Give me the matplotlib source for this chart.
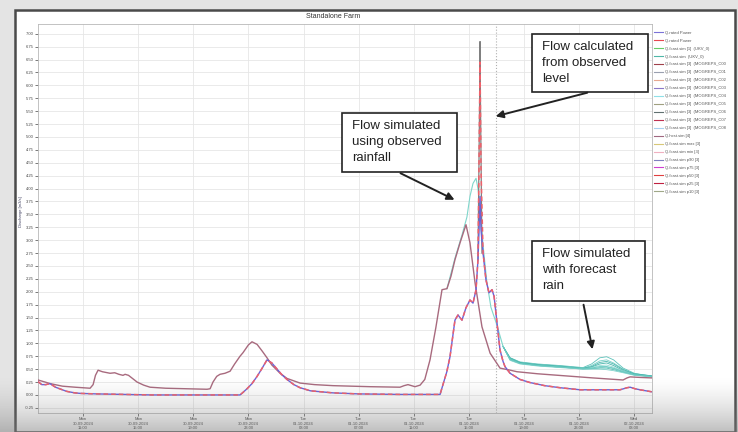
import matplotlib
matplotlib.use("Agg")
import matplotlib.pyplot as plt
import matplotlib.dates as mdates
import numpy as np
import pandas as pd
from matplotlib.lines import Line2D
from matplotlib.patches import Rectangle, FancyArrowPatch

# hours counted from 30-09-2024 00:00
start = pd.Timestamp("2024-09-30 00:00")

obs_hours = [7.73, 8.0, 8.3, 8.6, 9.0, 9.8, 10.4, 10.8, 12.0, 14.0, 16.0, 18.0, 20.0,
             22.39, 22.61, 22.90, 23.26, 23.63, 24.0, 24.35, 24.7, 25.08, 25.4, 25.8,
             26.3, 26.75, 27.5, 29.14, 31.0, 34.0, 36.0, 36.91, 37.12, 37.4, 37.63,
             37.99, 38.21, 38.50, 38.79, 39.08, 39.30, 39.52, 39.66, 39.74, 39.81,
             39.88, 40.03, 40.24, 40.46, 40.68, 40.83, 41.04, 41.26, 41.48, 41.62,
             41.99, 42.71, 43.44, 44.5, 45.62, 47.07, 48.5, 49.97, 50.48, 50.70,
             51.06, 51.42, 52.29]
obs_rated = [0.26, 0.20, 0.20, 0.22, 0.15, 0.07, 0.04, 0.03, 0.02, 0.01, 0.00, 0.00, 0.00,
             0.00, 0.05, 0.12, 0.22, 0.36, 0.52, 0.68, 0.62, 0.50, 0.40, 0.30,
             0.20, 0.14, 0.08, 0.04, 0.02, 0.01, 0.01, 0.01, 0.20, 0.45, 0.74,
             1.45, 1.55, 1.45, 1.69, 1.84, 1.78, 2.04, 2.62, 3.20, 3.85,
             3.20, 2.75, 2.23, 1.98, 2.04, 1.91, 1.40, 0.87, 0.65, 0.55,
             0.42, 0.30, 0.24, 0.18, 0.14, 0.10, 0.10, 0.10, 0.14, 0.15,
             0.12, 0.10, 0.06]
obs_level = [0.26, 0.20, 0.20, 0.22, 0.15, 0.07, 0.04, 0.03, 0.02, 0.01, 0.00, 0.00, 0.00,
             0.00, 0.05, 0.12, 0.22, 0.36, 0.52, 0.68, 0.62, 0.50, 0.40, 0.30,
             0.20, 0.14, 0.08, 0.04, 0.02, 0.01, 0.01, 0.01, 0.20, 0.45, 0.74,
             1.45, 1.55, 1.45, 1.69, 1.84, 1.78, 2.04, 2.62, 4.60, 6.45,
             4.40, 2.75, 2.23, 1.98, 2.04, 1.91, 1.40, 0.87, 0.65, 0.55,
             0.42, 0.30, 0.24, 0.18, 0.14, 0.10, 0.10, 0.10, 0.14, 0.15,
             0.12, 0.10, 0.06]

spike_hours = [39.66, 39.79, 39.81, 39.83, 39.95]
spike_vals = [2.62, 6.0, 6.85, 6.0, 2.75]

sim_hours = [7.73, 8.24, 8.61, 9.5, 10.42, 11.51, 11.73, 11.9, 12.09, 12.4, 12.96, 13.3,
             13.6, 13.9, 14.05, 14.3, 14.92, 15.4, 15.86, 17.0, 18.5, 20.0, 20.22, 20.43,
             20.7, 20.94, 21.3, 21.67, 22.0, 22.39, 22.61, 23.0, 23.26, 23.63, 24.0,
             24.35, 24.7, 25.30, 25.8, 26.75, 27.8, 29.14, 31.83, 34.0, 34.3, 34.58,
             35.09, 35.46, 35.8, 36.18, 36.6, 37.05, 37.41, 37.7, 37.99, 38.36, 38.79,
             39.08, 39.45, 39.95, 40.54, 41.26, 42.0, 42.49, 44.0, 46.0, 48.0, 50.19,
             50.48, 50.7, 51.4, 52.29]
sim_obs_rain = [0.29, 0.25, 0.22, 0.17, 0.15, 0.13, 0.20, 0.38, 0.48, 0.45, 0.42, 0.43,
                0.40, 0.38, 0.40, 0.38, 0.25, 0.19, 0.15, 0.13, 0.12, 0.11, 0.12, 0.25,
                0.36, 0.40, 0.42, 0.46, 0.60, 0.75, 0.82, 0.97, 1.03, 0.98, 0.85,
                0.72, 0.58, 0.42, 0.32, 0.23, 0.20, 0.18, 0.16, 0.15, 0.18, 0.20,
                0.16, 0.19, 0.30, 0.68, 1.30, 2.04, 2.06, 2.30, 2.62, 2.95, 3.30,
                2.95, 2.17, 1.32, 0.81, 0.52, 0.48, 0.45, 0.41, 0.37, 0.33, 0.29,
                0.33, 0.35, 0.34, 0.33]

ukv_hours = [37.41, 37.99, 38.5, 38.86, 39.08, 39.3, 39.52, 39.66, 39.81, 40.03, 40.3,
             40.6, 41.04, 41.48]
ukv_vals = [2.06, 2.65, 3.10, 3.45, 3.85, 4.10, 4.20, 4.00, 3.60, 2.90, 2.20,
            1.70, 1.35, 0.94]

ens_hours = [41.48, 41.99, 42.71, 44.0, 45.62, 47.28, 47.9, 48.5, 49.0, 49.5, 50.2, 51.0, 52.29]
ens_C00 = [0.94, 0.72, 0.64, 0.60, 0.57, 0.53, 0.60, 0.72, 0.74, 0.68, 0.52, 0.42, 0.36]
ens_C01 = [0.94, 0.70, 0.62, 0.58, 0.55, 0.52, 0.57, 0.66, 0.68, 0.62, 0.50, 0.41, 0.37]
ens_C02 = [0.94, 0.68, 0.61, 0.57, 0.54, 0.51, 0.54, 0.60, 0.62, 0.57, 0.47, 0.40, 0.36]
ens_C03 = [0.94, 0.71, 0.63, 0.59, 0.56, 0.52, 0.53, 0.57, 0.58, 0.54, 0.46, 0.40, 0.35]
ens_C04 = [0.94, 0.69, 0.62, 0.58, 0.55, 0.51, 0.52, 0.55, 0.55, 0.52, 0.45, 0.39, 0.36]
ens_C05 = [0.94, 0.70, 0.62, 0.57, 0.54, 0.50, 0.51, 0.52, 0.52, 0.49, 0.44, 0.39, 0.35]
ens_C06 = [0.94, 0.67, 0.60, 0.56, 0.53, 0.50, 0.50, 0.50, 0.49, 0.47, 0.43, 0.38, 0.35]
ens_C07 = [0.94, 0.72, 0.63, 0.59, 0.56, 0.52, 0.55, 0.63, 0.65, 0.60, 0.49, 0.41, 0.37]
ens_C08 = [0.94, 0.69, 0.61, 0.57, 0.54, 0.51, 0.51, 0.53, 0.54, 0.51, 0.45, 0.39, 0.36]
ens_members = [ens_C00, ens_C01, ens_C02, ens_C03, ens_C04, ens_C05, ens_C06, ens_C07, ens_C08]
ens_colors = ['#5cc2ba', '#7cd0c9', '#4bb5ad', '#94dcd6', '#62c6bd', '#56bcb3',
              '#80d3cc', '#4ab8ae', '#6ecbc3']

forecast_time = 41.0

legend_labels = ["Q.rated Power", "Q.rated Power", "Q.fcast.sim [1]  (UKV_0)",
                 "Q.fcast.sim  (UKV_0)"] + \
                ["Q.fcast.sim [3]  (MOGREPS_C0%d" % i for i in range(9)] + \
                ["Q.hcst.sim [4]", "Q.fcast.sim max [3]", "Q.fcast.sim min [3]",
                 "Q.fcast.sim p90 [3]", "Q.fcast.sim p75 [3]", "Q.fcast.sim p50 [3]",
                 "Q.fcast.sim p25 [3]", "Q.fcast.sim p10 [3]"]
legend_colors = ['#7b72d8', '#e8474f', '#66cc66', '#4fb7a8', '#a0404a', '#9aa0b0',
                 '#e8a890', '#8a78c8', '#8fe0e8', '#a0a080', '#607070', '#c03050',
                 '#a8d0f0', '#a06880', '#d8c878', '#f0b0c0', '#8080c0', '#d040d0',
                 '#e04040', '#c02040', '#a0a888']


def to_time(hours):
    return [start + pd.Timedelta(hours=h) for h in hours]


def fpx(x, y):
    return (x / 738.0, 1 - y / 432.0)


fig = plt.figure(figsize=(7.38, 4.32), dpi=100)
fig.patch.set_facecolor('#e4e4e4')
plt.rcParams['font.family'] = ['Liberation Sans', 'DejaVu Sans']

# white panel of the chart window
fig.add_artist(Rectangle(fpx(15, 432), 720 / 738.0, 422 / 432.0, transform=fig.transFigure,
                         facecolor='white', edgecolor='#4a4a4a', lw=1.8, zorder=0))

ax = fig.add_axes([38 / 738.0, 1 - 413 / 432.0, (652 - 38) / 738.0, (413 - 24) / 432.0])
ax.set_facecolor('white')

for m, c in zip(ens_members, ens_colors):
    ax.plot(to_time(ens_hours), m, color=c, lw=0.6, zorder=2)
ax.plot(to_time(ukv_hours), ukv_vals, color='#7fd6cb', lw=0.8, zorder=2)
ax.plot(to_time(sim_hours), sim_obs_rain, color='#a86a7e', lw=1.0, zorder=3)
ax.plot(to_time(spike_hours), spike_vals, color='#808080', lw=0.9, zorder=3)
ax.plot(to_time(obs_hours), obs_rated, color='#6a62d8', lw=1.0, zorder=4)
ax.plot(to_time(obs_hours), obs_level, color='#f0606a', lw=1.1, ls=(0, (3, 2)), zorder=5)

ax.axvline(start + pd.Timedelta(hours=forecast_time), color='#b0b0b0', lw=0.8, ls=':', zorder=1)

ax.set_xlim(start + pd.Timedelta(hours=7.73), start + pd.Timedelta(hours=52.29))
ax.set_ylim(-0.35, 7.19)
ax.set_yticks(np.arange(-0.25, 7.01, 0.25))
ax.yaxis.set_major_formatter(plt.FormatStrFormatter('%.2f'))
ax.xaxis.set_major_locator(mdates.HourLocator(byhour=[3, 7, 11, 15, 19, 23]))
ax.xaxis.set_major_formatter(mdates.DateFormatter('%a\n%d-%m-%Y\n%H:%M'))
ax.tick_params(axis='both', labelsize=3, colors='#444444', length=2, width=0.5, pad=1)
ax.grid(True, color='#e6e6e6', lw=0.6)
ax.set_axisbelow(True)
for s in ax.spines.values():
    s.set_color('#b8b8b8')
    s.set_linewidth(0.6)

fig.text(*fpx(333, 17), "Standalone Farm", fontsize=5, color='#333333', ha='center', va='center')
fig.text(*fpx(21, 212), "Discharge [m3/s]", fontsize=3, color='#404060', rotation=90,
         ha='center', va='center')

handles = [Line2D([], [], color=c, lw=0.8) for c in legend_colors]
fig.legend(handles, legend_labels, loc='upper left', bbox_to_anchor=fpx(652, 29),
           frameon=False, fontsize=3, labelspacing=0.95, handlelength=2.2,
           handletextpad=0.6, borderaxespad=0, labelcolor='#555555')

# callout boxes
boxes = [((532, 34, 648, 92), "Flow calculated\nfrom observed\nlevel"),
         ((342, 113, 457, 172), "Flow simulated\nusing observed\nrainfall"),
         ((532, 241, 645, 301), "Flow simulated\nwith forecast\nrain")]
for (x0, y0, x1, y1), txt in boxes:
    fig.add_artist(Rectangle(fpx(x0, y1), (x1 - x0) / 738.0, (y1 - y0) / 432.0,
                             transform=fig.transFigure, facecolor='white',
                             edgecolor='#222222', lw=1.2, zorder=10))
    fig.text(*fpx(x0 + 10, y0 + 7), txt, fontsize=9.5, color='#222222', ha='left', va='top',
             linespacing=1.42, zorder=11)

arrows = [((590, 92), (493, 117)), ((398, 172), (457, 201)), ((583, 302), (593, 352))]
for (xs, ys), (xe, ye) in arrows:
    fig.add_artist(FancyArrowPatch(
        fpx(xs, ys), fpx(xe, ye), transform=fig.transFigure, arrowstyle='-|>',
        mutation_scale=11, color='#222222', lw=1.4, zorder=12))

# darker band at the bottom of the screenshot
grad = fig.add_axes([0, 0, 1, 55 / 432.0], zorder=20)
g = np.zeros((100, 2, 4))
g[..., :3] = 0.5
g[..., 3] = (np.linspace(1.0, 0.0, 100)[:, None] ** 1.5) * 0.5
grad.imshow(g, aspect='auto', extent=[0, 1, 0, 1], origin='lower')
grad.axis('off')

fig.savefig('out.png', dpi=100, facecolor=fig.get_facecolor())
